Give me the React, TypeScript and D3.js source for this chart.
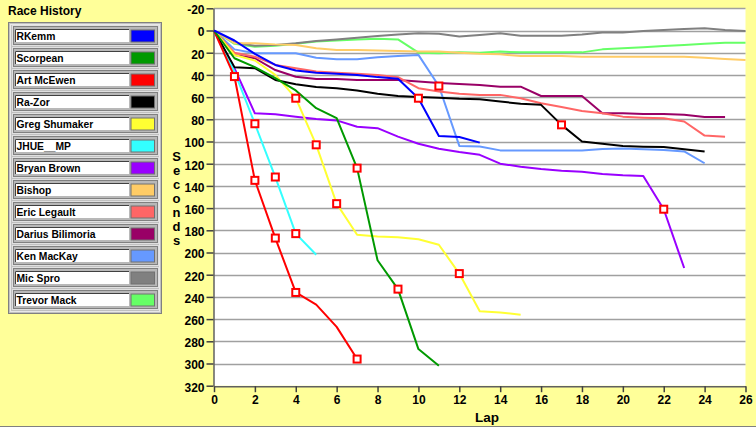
import { useEffect, useRef } from 'react'
import * as d3 from 'd3'

// seconds behind the leader, one value per lap (lap 0 first)
const rkemm = [0, 9, 21, 31, 36, 38, 39, 40, 42, 43.5, 61, 95, 96, 101]
const scorpean = [0, 25, 33, 43, 54, 70, 79, 124, 207, 233, 287, 302]
const artMcEwen = [0, 41.5, 135, 187, 236, 247, 267, 296]
const raZor = [0, 33, 34, 44.6, 48.5, 51, 52, 54, 57, 59, 60, 60.5, 61.5, 62, 64, 66, 67, 85, 100, 102, 104, 104.7, 105, 107, 109]
const gregShumaker = [0, 22, 27, 40, 61, 103, 156, 184, 185.5, 186.3, 188, 193, 219, 253, 254, 256]
const jhueMp = [0, 37, 84, 132, 183, 202]
const bryanBrown = [0, 34, 74.6, 75.5, 77.6, 79.7, 81, 86.7, 88, 95.6, 102, 106.5, 109.5, 112, 120, 122.7, 124.8, 126.3, 127.2, 129.3, 130.5, 131, 161, 214]
const bishop = [0, 11.5, 11.5, 12.5, 13, 16, 17.6, 17.6, 18, 18.5, 19, 19, 20, 21, 21.5, 23, 23, 23, 23.6, 23.6, 23.6, 23.6, 23.6, 23.6, 24.5, 25.7, 26.6]
const ericLegault = [0, 20, 23.6, 31, 34, 37, 38, 39, 40, 42, 52, 55, 57, 58, 58, 61, 65.6, 69, 72.5, 74.6, 77.6, 78.5, 79, 82, 94.7, 95.7]
const dariusBilimoria = [0, 22, 25, 35.6, 41.6, 43.7, 43.7, 44.6, 44.6, 44.6, 46, 47.3, 48.2, 49, 50.6, 50.6, 59, 59, 59, 74.6, 74.6, 75.2, 75.2, 76, 78, 78]
const kenMacKay = [0, 17, 20.5, 20.5, 20.5, 24.5, 26, 26, 24, 23, 22, 50, 104, 104.6, 108, 108, 108, 108, 108, 106.8, 106.3, 107, 107.6, 109, 119.6]
const micSpro = [0, 11, 13.7, 13, 11.5, 9.5, 8, 6.5, 5, 3.5, 2.5, 3, 5.5, 4, 2.5, 4.7, 4.7, 4.7, 3.5, 1.7, 1.7, 0.5, -0.5, -1.4, -2, -0.5, 0.5]
const trevorMack = [0, 12, 14.6, 13.7, 12, 10, 9, 8, 7.5, 8, 20, 20.5, 19.7, 20, 19, 19.7, 19.7, 19.7, 19.7, 17, 16, 15, 14, 13, 12, 11, 11]

const NAMES = ['RKemm', 'Scorpean', 'Art McEwen', 'Ra-Zor', 'Greg Shumaker', 'JHUE__MP', 'Bryan Brown', 'Bishop', 'Eric Legault', 'Darius Bilimoria', 'Ken MacKay', 'Mic Spro', 'Trevor Mack']
const VALUES = [rkemm, scorpean, artMcEwen, raZor, gregShumaker, jhueMp, bryanBrown, bishop, ericLegault, dariusBilimoria, kenMacKay, micSpro, trevorMack]
const COLORS = ['#0000ff', '#009900', '#ff0000', '#000000', '#ffff33', '#33ffff', '#9900ff', '#ffcc66', '#ff6666', '#990066', '#6699ff', '#808080', '#66ff66']

// pit stops: [racer index, lap]
const PITS: [number, number][] = [
  [2, 1], [2, 2], [2, 3], [2, 4], [2, 7],
  [5, 2], [5, 3], [5, 4],
  [4, 4], [4, 5], [4, 6], [4, 12],
  [1, 7], [1, 9],
  [0, 10], [10, 11], [3, 17], [6, 22],
]

const Y_TICKS = d3.range(-20, 321, 20)
const X_TICKS = d3.range(0, 27, 2)

const W = 756, H = 427
const PLOT = { l: 214, r: 745.5, t: 8.3, b: 385.7 }
const BG = '#ffff99'
const FONT = 'Liberation Sans, Arial, sans-serif'

export default function App() {
  const ref = useRef<SVGSVGElement>(null)

  useEffect(() => {
    const svg = d3.select(ref.current)
    svg.selectAll('*').remove()

    const x = d3.scaleLinear().domain([0, 26]).range([PLOT.l, PLOT.r])
    const y = d3.scaleLinear().domain([-20, 320]).range([PLOT.t, PLOT.b])

    svg.append('rect').attr('width', W).attr('height', H).attr('fill', BG)
    svg.append('line').attr('x1', 0).attr('x2', W).attr('y1', H - 0.5).attr('y2', H - 0.5).attr('stroke', '#808080')

    svg.append('rect').attr('x', PLOT.l).attr('y', PLOT.t).attr('width', PLOT.r - PLOT.l).attr('height', PLOT.b - PLOT.t).attr('fill', '#fff')

    // grid
    Y_TICKS.filter(t => t < 320).forEach(t => svg.append('line')
      .attr('x1', PLOT.l).attr('x2', PLOT.r).attr('y1', Math.round(y(t)) + 0.5).attr('y2', Math.round(y(t)) + 0.5)
      .attr('stroke', '#a0a0a0').attr('stroke-width', 1.3))

    // axes
    const yAxis = svg.append('g').attr('transform', `translate(${PLOT.l - 0.5},0)`)
      .call(d3.axisLeft(y).tickValues(Y_TICKS).tickFormat(d => String(d)).tickSize(7).tickPadding(2).tickSizeOuter(0))
    yAxis.select('.domain').attr('stroke', '#606060').attr('stroke-width', 1.5)
    yAxis.selectAll('.tick line').attr('stroke', '#404040').attr('stroke-width', 1.5)
    yAxis.selectAll('.tick text').attr('fill', '#000').attr('font-family', FONT).attr('font-weight', 'bold')
      .attr('font-size', '12px').attr('dy', '0.45em')

    const xAxis = svg.append('g').attr('transform', `translate(0,${PLOT.b + 0.5})`)
      .call(d3.axisBottom(x).tickValues(X_TICKS).tickFormat(d => String(d)).tickSize(6).tickPadding(3).tickSizeOuter(0))
    xAxis.select('.domain').attr('stroke', '#606060').attr('stroke-width', 1.5)
    xAxis.selectAll('.tick line').attr('stroke', '#404040').attr('stroke-width', 1.5)
    xAxis.selectAll('.tick text').attr('fill', '#000').attr('font-family', FONT).attr('font-weight', 'bold')
      .attr('font-size', '12px')

    // axis titles
    svg.append('text').attr('x', 487).attr('y', 422).attr('text-anchor', 'middle')
      .attr('font-family', FONT).attr('font-weight', 'bold').attr('font-size', '13.5px').text('Lap')
    'Seconds'.split('').forEach((ch, i) => svg.append('text')
      .attr('x', 176.5).attr('y', 156 + i * 14.05).attr('text-anchor', 'middle').attr('dominant-baseline', 'central')
      .attr('font-family', FONT).attr('font-weight', 'bold').attr('font-size', '13px').text(ch))

    // series, first racer drawn last (on top)
    const line = d3.line<number>().x((_, i) => x(i)).y(v => y(v))
    for (let k = VALUES.length - 1; k >= 0; k--) {
      svg.append('path').attr('d', line(VALUES[k])).attr('fill', 'none')
        .attr('stroke', COLORS[k]).attr('stroke-width', 2).attr('stroke-linejoin', 'round')
    }

    // pit stop markers
    PITS.forEach(([k, lap]) => svg.append('rect')
      .attr('x', x(lap) - 3.5).attr('y', y(VALUES[k][lap]) - 3.5).attr('width', 7).attr('height', 7)
      .attr('fill', '#fff').attr('stroke', '#ff0000').attr('stroke-width', 2))

    // legend
    svg.append('text').attr('x', 8).attr('y', 15).attr('font-family', FONT).attr('font-weight', 'bold')
      .attr('font-size', '12px').text('Race History')

    const lg = svg.append('g')
    lg.append('rect').attr('x', 8.5).attr('y', 22.5).attr('width', 153).attr('height', 291)
      .attr('fill', '#c0c0c0').attr('stroke', '#808080')
    lg.append('rect').attr('x', 10.5).attr('y', 24.5).attr('width', 149).attr('height', 287)
      .attr('fill', 'none').attr('stroke', '#e8e8e8')
    NAMES.forEach((name, i) => {
      const top = 25 + i * 22
      const g = lg.append('g')
      g.append('rect').attr('x', 12.5).attr('y', top + 0.5).attr('width', 146).attr('height', 20)
        .attr('fill', '#a8a8a8').attr('stroke', '#e0e0e0')
      g.append('rect').attr('x', 13.5).attr('y', top + 1.5).attr('width', 144).attr('height', 18)
        .attr('fill', '#b8b8b8').attr('stroke', '#808080')
      g.append('rect').attr('x', 15).attr('y', top + 4).attr('width', 114).attr('height', 13)
        .attr('fill', '#fff')
      g.append('path').attr('d', `M15.5,${top + 17} V${top + 4.5} H129`).attr('fill', 'none').attr('stroke', '#404040')
      g.append('rect').attr('x', 131).attr('y', top + 5).attr('width', 23.5).attr('height', 12)
        .attr('fill', COLORS[i]).attr('stroke', '#707070').attr('stroke-width', 1)
      g.append('text').attr('x', 16.5).attr('y', top + 15).attr('font-family', FONT).attr('font-weight', 'bold')
        .attr('font-size', '10.3px').attr('fill', '#000').text(name)
    })
  }, [])

  return <svg ref={ref} width={W} height={H} style={{ position: 'absolute', left: 0, top: 0 }} />
}
